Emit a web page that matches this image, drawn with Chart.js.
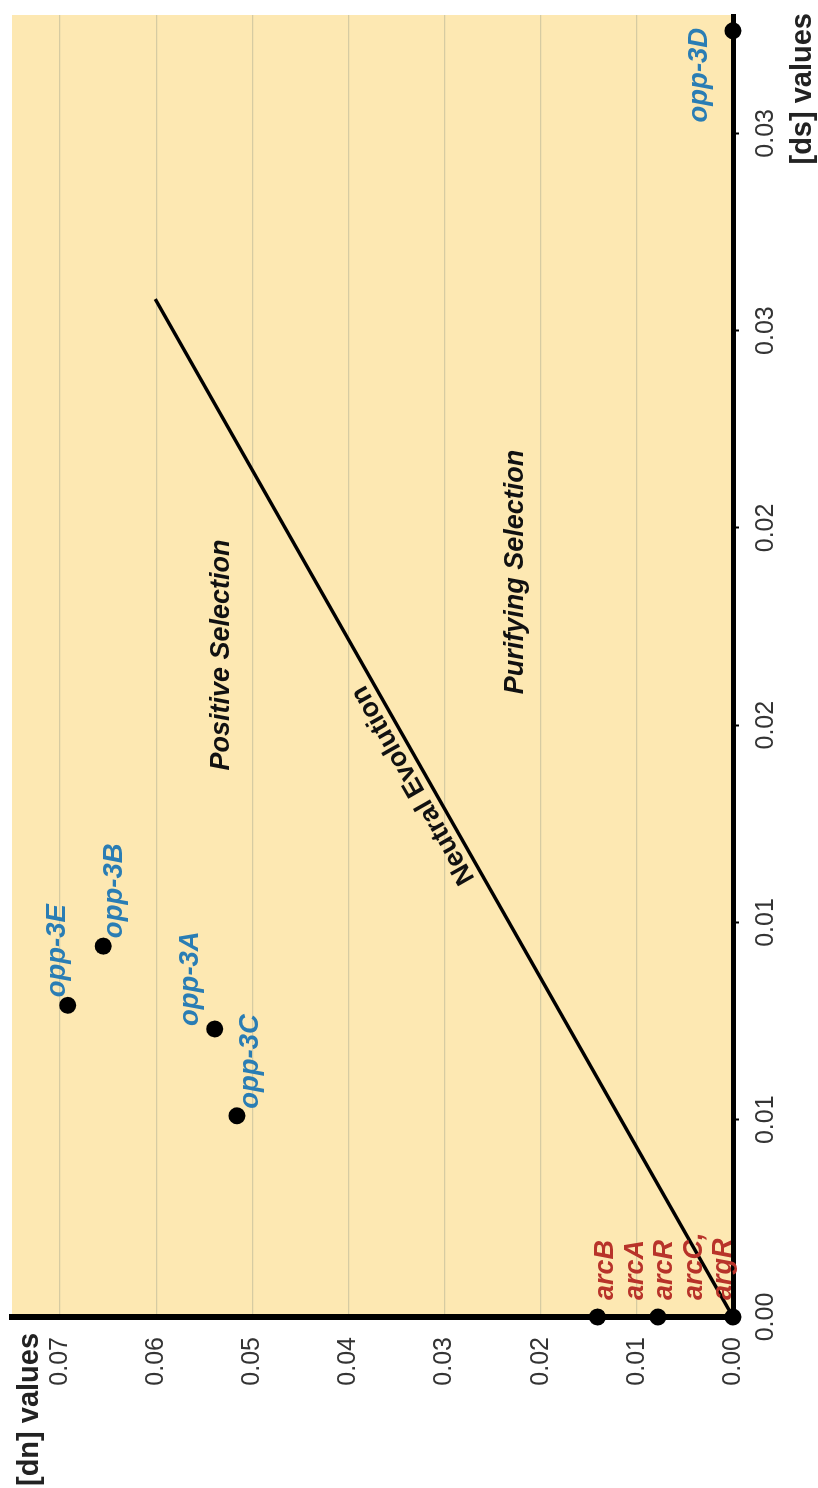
<!DOCTYPE html>
<html><head><meta charset="utf-8">
<script src="https://cdn.jsdelivr.net/npm/chart.js@4.4.1/dist/chart.umd.min.js"></script>
<style>
html,body{margin:0;padding:0;background:#fff;width:818px;height:1488px;overflow:hidden;}
#wrap{position:absolute;left:0;top:0;width:1488px;height:818px;transform-origin:0 0;transform:translate(0,1488px) rotate(-90deg);}
canvas{display:block;}
</style></head><body>
<div id="wrap"><canvas id="c" width="1488" height="818"></canvas></div>
<script>
// ---- data ----
const oppNames = ['opp-3E', 'opp-3B', 'opp-3A', 'opp-3C', 'opp-3D'];
const oppDs = [0.0079, 0.0094, 0.0073, 0.0051, 0.0326];
const oppDn = [0.0692, 0.0655, 0.0539, 0.0516, 0.0];
const arcNames = ['arcB', 'arcA', 'arcR', 'arcC,', 'argR'];
const arcDs = [0, 0, 0];
const arcDn = [0.0141, 0.0078, 0.0];
const neutralDs = [0, 0.0258];
const neutralDn = [0, 0.0601];
const dsTicks = [0, 0.005, 0.01, 0.015, 0.02, 0.025, 0.03];
const dsTickLabels = ['0.00', '0.01', '0.01', '0.02', '0.02', '0.03', '0.03'];
const dnTicks = [0, 0.01, 0.02, 0.03, 0.04, 0.05, 0.06, 0.07];
const dnTickLabels = ['0.00', '0.01', '0.02', '0.03', '0.04', '0.05', '0.06', '0.07'];
const xTitle = '[ds] values';
const yTitle = '[dn] values';
const regionTexts = ['Positive Selection', 'Purifying Selection', 'Neutral Evolution'];

// ---- styling / layout ----
const FONT = '"Liberation Sans", Arial, Helvetica, sans-serif';
const oppOffsets = [[8, -3, 'left'], [8, 19, 'left'], [3, -17, 'left'], [7, 21, 'left'], [3, -26, 'right']];

const bgPlugin = {
  id: 'bg',
  beforeDraw(chart) {
    const {ctx, chartArea: a} = chart;
    ctx.save();
    ctx.fillStyle = '#fde8b2';
    ctx.fillRect(a.left, a.top, a.right - a.left, a.bottom - a.top);
    ctx.restore();
  }
};

const textPlugin = {
  id: 'texts',
  afterDatasetsDraw(chart) {
    const ctx = chart.ctx, xs = chart.scales.x, ys = chart.scales.y;
    ctx.save();
    ctx.textBaseline = 'alphabetic';
    // opp labels
    ctx.font = 'italic bold 27.5px ' + FONT;
    ctx.fillStyle = '#2a7db4';
    oppNames.forEach((n, i) => {
      const px = xs.getPixelForValue(oppDs[i]), py = ys.getPixelForValue(oppDn[i]);
      const o = oppOffsets[i];
      ctx.textAlign = o[2];
      ctx.fillText(n, px + o[0], py + o[1]);
    });
    // arc labels (stacked)
    ctx.font = 'italic bold 27px ' + FONT;
    ctx.fillStyle = '#b8332a';
    ctx.textAlign = 'left';
    const ax = xs.getPixelForValue(arcDs[0]) + 17;
    const ay = ys.getPixelForValue(arcDn[0]) + 16;
    arcNames.forEach((n, i) => ctx.fillText(n, ax, ay + i * 29.5));
    // region texts
    ctx.fillStyle = '#111';
    ctx.textAlign = 'center';
    ctx.textBaseline = 'middle';
    ctx.font = 'italic bold 27px ' + FONT;
    ctx.fillText(regionTexts[0], xs.getPixelForValue(0.01678), ys.getPixelForValue(0.0532));
    ctx.fillText(regionTexts[1], xs.getPixelForValue(0.01888), ys.getPixelForValue(0.0226));
    // neutral evolution along the line
    const x0 = xs.getPixelForValue(neutralDs[0]), y0 = ys.getPixelForValue(neutralDn[0]);
    const x1 = xs.getPixelForValue(neutralDs[1]), y1 = ys.getPixelForValue(neutralDn[1]);
    const ang = Math.atan2(y1 - y0, x1 - x0);
    const t = 0.53;
    ctx.translate(x0 + (x1 - x0) * t, y0 + (y1 - y0) * t);
    ctx.rotate(ang);
    ctx.font = 'bold 27px ' + FONT;
    ctx.textBaseline = 'alphabetic';
    ctx.fillText(regionTexts[2], 0, -8);
    ctx.restore();
  },
  afterDraw(chart) {
    const ctx = chart.ctx;
    ctx.save();
    ctx.font = 'bold 29px ' + FONT;
    ctx.fillStyle = '#222';
    ctx.textBaseline = 'alphabetic';
    ctx.textAlign = 'left';
    ctx.fillText(yTitle, 2, 38);
    ctx.textAlign = 'right';
    ctx.fillText(xTitle, 1475, 811);
    ctx.restore();
  }
};

const pointsData = oppDs.map((v, i) => ({x: v, y: oppDn[i]}))
  .concat(arcDs.map((v, i) => ({x: v, y: arcDn[i]})));
const lineData = neutralDs.map((v, i) => ({x: v, y: neutralDn[i]}));

new Chart(document.getElementById('c'), {
  type: 'scatter',
  data: {
    datasets: [
      {
        data: pointsData, order: 0, clip: false,
        pointRadius: 8.5, pointBackgroundColor: '#000', pointBorderWidth: 0, showLine: false
      },
      {
        data: lineData, order: 1, showLine: true, borderColor: '#000', borderWidth: 3.5,
        pointRadius: 0, fill: false
      }
    ]
  },
  options: {
    responsive: false,
    animation: false,
    devicePixelRatio: 1,
    layout: {padding: {left: 0, top: 12, right: 15, bottom: 0}},
    plugins: {legend: {display: false}, tooltip: {enabled: false}},
    scales: {
      x: {
        type: 'linear', min: 0, max: 0.033, position: 'bottom',
        afterFit(s) { s.height = 85; s.paddingLeft = 0; s.paddingRight = 0; },
        afterBuildTicks(s) { s.ticks = dsTicks.map(v => ({value: v})); },
        grid: {drawOnChartArea: false, color: '#000', tickColor: '#000', tickLength: 6, tickWidth: 2},
        border: {color: '#000', width: 5},
        ticks: {
          callback: (v, i) => dsTickLabels[i], maxRotation: 0, minRotation: 0, autoSkip: false,
          padding: 12, color: '#333', font: {family: FONT, size: 25}
        }
      },
      y: {
        type: 'linear', min: 0, max: 0.075, position: 'left',
        afterFit(s) { s.width = 171; s.paddingTop = 0; s.paddingBottom = 0; },
        afterBuildTicks(s) { s.ticks = dnTicks.map(v => ({value: v})); },
        grid: {color: '#d6cba2', lineWidth: 1.3, drawTicks: false},
        border: {color: '#000', width: 6},
        ticks: {
          callback: (v, i) => dnTickLabels[i], autoSkip: false,
          padding: 20, color: '#333', font: {family: FONT, size: 25}
        }
      }
    }
  },
  plugins: [bgPlugin, textPlugin]
});
</script>
</body></html>
